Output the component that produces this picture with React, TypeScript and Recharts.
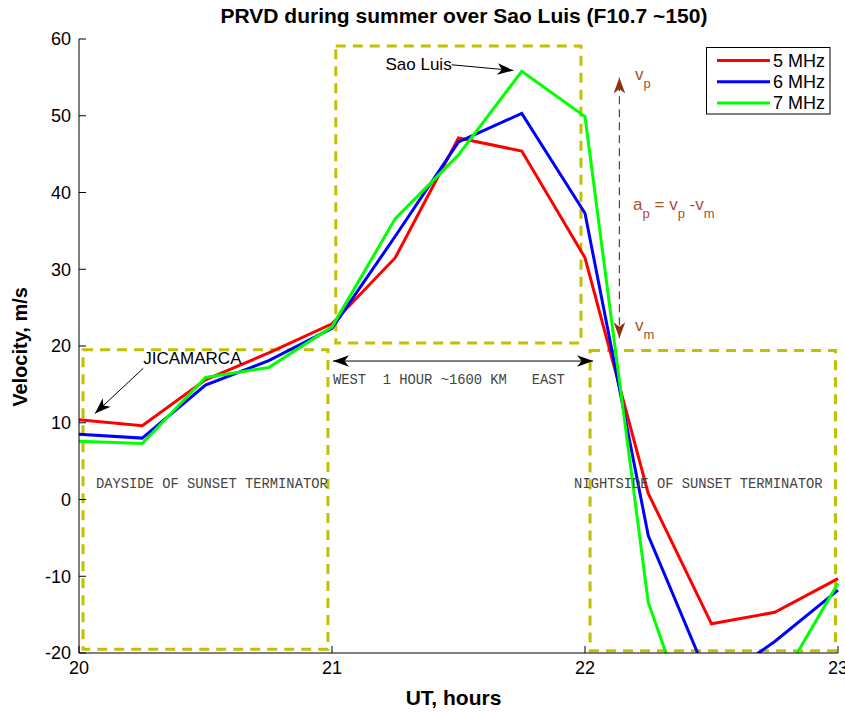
import React from 'react';
import {
  LineChart,
  Line,
  XAxis,
  YAxis,
  ReferenceArea,
  ReferenceLine,
  ReferenceDot,
  Legend,
  Label,
} from 'recharts';

// ---------- data ----------
const hours = [20, 20.25, 20.5, 20.75, 21, 21.25, 21.5, 21.75, 22, 22.25, 22.5, 22.75, 23];
const mhz5 = [10.4, 9.6, 15.6, 19.1, 22.9, 31.5, 47.1, 45.4, 31.5, 0.8, -16.2, -14.7, -10.3];
const mhz6 = [8.5, 8.0, 14.9, 18.1, 22.3, 34.3, 46.6, 50.3, 37.3, -4.7, -24.3, -18.5, -11.8];
const mhz7 = [7.6, 7.3, 15.9, 17.2, 22.5, 36.6, 44.9, 55.8, 49.9, -13.4, -37.0, -25.0, -10.9];
const seriesNames = ['5 MHz', '6 MHz', '7 MHz'];
const seriesColors = ['#ff0000', '#0000ff', '#00ff00'];
const xTicks = [20, 21, 22, 23];
const yTicks = [-20, -10, 0, 10, 20, 30, 40, 50, 60];
const title = 'PRVD during summer over Sao Luis (F10.7 ~150)';

// dashed region boxes (data units)
const boxX1 = [20.016, 21.015, 22.02];
const boxX2 = [20.984, 21.984, 22.99];
const boxY1 = [-19.5, 20.4, -19.7];
const boxY2 = [19.5, 59.1, 19.4];

const data = hours.map((t, i) => ({ t, f5: mhz5[i], f6: mhz6[i], f7: mhz7[i] }));

const YELLOW = '#c2c000';
const BROWN = '#8b3212';
const BROWN_TEXT = '#a3502c';
const SANS = '"Liberation Sans", Arial, Helvetica, sans-serif';
const MONO = '"Liberation Mono", "Courier New", Courier, monospace';

// ---------- helpers ----------
const head = (tx: number, ty: number, fx: number, fy: number, color: string, len = 16, half = 5.8, notch = 4.5) => {
  const dx = tx - fx;
  const dy = ty - fy;
  const d = Math.hypot(dx, dy) || 1;
  const ux = dx / d;
  const uy = dy / d;
  const nx = -uy;
  const ny = ux;
  const bx = tx - ux * len;
  const by = ty - uy * len;
  const mx = tx - ux * (len - notch);
  const my = ty - uy * (len - notch);
  return (
    <polygon
      points={`${tx},${ty} ${bx + nx * half},${by + ny * half} ${mx},${my} ${bx - nx * half},${by - ny * half}`}
      fill={color}
    />
  );
};

const makeArrow = (color: string, both: boolean, dash?: string, width = 1) => (props: any) => {
  const { x1, y1, x2, y2 } = props;
  return (
    <g>
      <line x1={x1} y1={y1} x2={x2} y2={y2} stroke={color} strokeWidth={width} strokeDasharray={dash} />
      {head(x2, y2, x1, y1, color)}
      {both ? head(x1, y1, x2, y2, color) : null}
    </g>
  );
};

const textShape = (content: React.ReactNode, opts: any) => (p: any) => (
  <text
    x={p.cx}
    y={p.cy}
    fontFamily={opts.family || SANS}
    fontSize={opts.size || 17}
    fill={opts.color || '#000'}
    textAnchor={opts.anchor || 'start'}
    xmlSpace="preserve"
    style={{ whiteSpace: 'pre' }}
  >
    {content}
  </text>
);

const LeftTick = (props: any) => {
  const { x, y, payload } = props;
  return (
    <g>
      <line x1={x} y1={y} x2={x + 7} y2={y} stroke="#000" strokeWidth={1} />
      <text x={x - 8} y={y} dy="0.35em" textAnchor="end" fontSize={18} fontFamily={SANS} fill="#000">
        {payload.value}
      </text>
    </g>
  );
};

const RightTick = (props: any) => {
  const { x, y } = props;
  return <line x1={x} y1={y} x2={x - 7} y2={y} stroke="#000" strokeWidth={1} />;
};

const BottomTick = (props: any) => {
  const { x, y, payload } = props;
  return (
    <g>
      <line x1={x} y1={y} x2={x} y2={y - 7} stroke="#000" strokeWidth={1} />
      <text x={x} y={y + 21} textAnchor="middle" fontSize={18} fontFamily={SANS} fill="#000">
        {payload.value}
      </text>
    </g>
  );
};

const TopTick = (props: any) => {
  const { x, y } = props;
  return <line x1={x} y1={y} x2={x} y2={y + 7} stroke="#000" strokeWidth={1} />;
};

const renderLegend = (props: any) => {
  const payload = props.payload || [];
  return (
    <svg width={125} height={68} style={{ display: 'block' }}>
      <rect x={0.5} y={0.5} width={123.5} height={66.5} fill="#fff" stroke="#000" strokeWidth={1} />
      {payload.map((e: any, i: number) => {
        const yy = 13.5 + i * 21.2;
        return (
          <g key={i}>
            <line x1={11} x2={64} y1={yy} y2={yy} stroke={e.color} strokeWidth={3} />
            <text x={67} y={yy} dy="0.36em" fontSize={18} fontFamily={SANS} fill="#000">
              {e.value}
            </text>
          </g>
        );
      })}
    </svg>
  );
};

export default function App() {
  return (
    <div style={{ position: 'absolute', left: 0, top: 0, width: 845, height: 712, background: '#fff', fontFamily: SANS }}>
      <div
        style={{
          position: 'absolute',
          left: 83,
          top: 5,
          width: 762,
          textAlign: 'center',
          fontSize: 21,
          lineHeight: '21px',
          fontWeight: 'bold',
          fontFamily: SANS,
          color: '#000',
          whiteSpace: 'nowrap',
          zIndex: 2,
        }}
      >
        {title}
      </div>
      <LineChart width={845} height={712} data={data} margin={{ top: 39, right: 7, bottom: 0, left: 0 }}>
        <XAxis
          dataKey="t"
          type="number"
          domain={[20, 23]}
          ticks={xTicks}
          height={59}
          tickSize={0}
          tickMargin={0}
          tickLine={false}
          axisLine={{ stroke: '#000', strokeWidth: 1 }}
          tick={BottomTick}
          interval={0}
        >
          <Label
            content={(p: any) => {
              const vb = p.viewBox;
              return (
                <text x={vb.x + vb.width / 2 - 5} y={vb.y + 52} textAnchor="middle" fontSize={21} fontWeight="bold" fontFamily={SANS} fill="#000">
                  UT, hours
                </text>
              );
            }}
          />
        </XAxis>
        <XAxis
          xAxisId="top"
          dataKey="t"
          type="number"
          orientation="top"
          domain={[20, 23]}
          ticks={xTicks}
          height={0}
          tickSize={0}
          tickMargin={0}
          tickLine={false}
          axisLine={{ stroke: '#000', strokeWidth: 1 }}
          tick={TopTick}
          interval={0}
        />
        <YAxis
          type="number"
          domain={[-20, 60]}
          ticks={yTicks}
          allowDataOverflow
          width={79}
          tickSize={0}
          tickMargin={0}
          tickLine={false}
          axisLine={{ stroke: '#000', strokeWidth: 1 }}
          tick={LeftTick}
          interval={0}
        >
          <Label
            content={(p: any) => {
              const vb = p.viewBox;
              const cx = 27;
              const cy = vb.y + vb.height / 2 + 1;
              return (
                <text x={cx} y={cy} transform={`rotate(-90 ${cx} ${cy})`} textAnchor="middle" fontSize={20} fontWeight="bold" fontFamily={SANS} fill="#000">
                  Velocity, m/s
                </text>
              );
            }}
          />
        </YAxis>
        <YAxis
          yAxisId="right"
          orientation="right"
          type="number"
          domain={[-20, 60]}
          ticks={yTicks}
          allowDataOverflow
          width={0}
          tickSize={0}
          tickMargin={0}
          tickLine={false}
          axisLine={{ stroke: '#000', strokeWidth: 1 }}
          tick={RightTick}
          interval={0}
        />

        {boxX1.map((x1, i) => (
          <ReferenceArea
            key={`box${i}`}
            x1={x1}
            x2={boxX2[i]}
            y1={boxY1[i]}
            y2={boxY2[i]}
            fill="none"
            fillOpacity={0}
            stroke={YELLOW}
            strokeWidth={3}
            strokeDasharray="10 7"
            ifOverflow="visible"
          />
        ))}

        <Line type="linear" dataKey="f5" name={seriesNames[0]} stroke={seriesColors[0]} strokeWidth={3} dot={false} isAnimationActive={false} />
        <Line type="linear" dataKey="f6" name={seriesNames[1]} stroke={seriesColors[1]} strokeWidth={3} dot={false} isAnimationActive={false} />
        <Line type="linear" dataKey="f7" name={seriesNames[2]} stroke={seriesColors[2]} strokeWidth={3} dot={false} isAnimationActive={false} />

        {/* arrows */}
        <ReferenceLine
          segment={[{ x: 20.254, y: 17.09 }, { x: 20.063, y: 11.22 }]}
          ifOverflow="visible"
          shape={makeArrow('#000', false)}
        />
        <ReferenceLine
          segment={[{ x: 21.473, y: 56.64 }, { x: 21.717, y: 55.9 }]}
          ifOverflow="visible"
          shape={makeArrow('#000', false)}
        />
        <ReferenceLine
          segment={[{ x: 21.004, y: 18.04 }, { x: 22.032, y: 18.04 }]}
          ifOverflow="visible"
          shape={makeArrow('#000', true)}
        />
        <ReferenceLine
          segment={[{ x: 22.136, y: 21.0 }, { x: 22.136, y: 55.0 }]}
          ifOverflow="visible"
          shape={makeArrow(BROWN, true, '8 5', 1.2)}
        />

        {/* texts */}
        <ReferenceDot x={20.254} y={17.61} r={0} ifOverflow="visible" shape={textShape('JICAMARCA', { size: 17 })} />
        <ReferenceDot x={21.473} y={56.0} r={0} ifOverflow="visible" shape={textShape('Sao Luis', { size: 17, anchor: 'end' })} />
        <ReferenceDot
          x={21.004}
          y={15.04}
          r={0}
          ifOverflow="visible"
          shape={textShape('WEST  1 HOUR ~1600 KM   EAST', { family: MONO, size: 13.8, color: '#444' })}
        />
        <ReferenceDot
          x={20.067}
          y={1.47}
          r={0}
          ifOverflow="visible"
          shape={textShape('DAYSIDE OF SUNSET TERMINATOR', { family: MONO, size: 13.8, color: '#444' })}
        />
        <ReferenceDot
          x={21.957}
          y={1.47}
          r={0}
          ifOverflow="visible"
          shape={textShape('NIGHTSIDE OF SUNSET TERMINATOR', { family: MONO, size: 13.8, color: '#444' })}
        />
        <ReferenceDot
          x={22.198}
          y={54.69}
          r={0}
          ifOverflow="visible"
          shape={textShape(
            <>
              <tspan>v</tspan>
              <tspan dy={8} fontSize={13}>p</tspan>
            </>,
            { size: 17, color: BROWN_TEXT }
          )}
        />
        <ReferenceDot
          x={22.19}
          y={37.73}
          r={0}
          ifOverflow="visible"
          shape={textShape(
            <>
              <tspan>a</tspan>
              <tspan dy={8} fontSize={13}>p</tspan>
              <tspan dy={-8}> = v</tspan>
              <tspan dy={8} fontSize={13}>p</tspan>
              <tspan dy={-8}> -v</tspan>
              <tspan dy={8} fontSize={13}>m</tspan>
            </>,
            { size: 17, color: BROWN_TEXT }
          )}
        />
        <ReferenceDot
          x={22.198}
          y={21.95}
          r={0}
          ifOverflow="visible"
          shape={textShape(
            <>
              <tspan>v</tspan>
              <tspan dy={8} fontSize={13}>m</tspan>
            </>,
            { size: 17, color: BROWN_TEXT }
          )}
        />

        <Legend
          layout="vertical"
          align="center"
          verticalAlign="middle"
          content={renderLegend}
          wrapperStyle={{ position: 'absolute', left: 706, top: 47, width: 125, height: 68 }}
        />
      </LineChart>
    </div>
  );
}
